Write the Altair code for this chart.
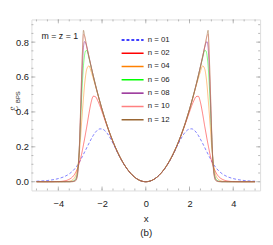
import altair as alt
import pandas as pd

# right half of each (symmetric) curve
x_half = [0, 0.25, 0.5, 0.75, 1.0, 1.25, 1.5, 1.75, 2.0, 2.1, 2.2, 2.3, 2.4, 2.5, 2.6,
          2.7, 2.75, 2.8, 2.85, 2.9, 2.95, 3.0, 3.05, 3.1, 3.15, 3.2, 3.3, 3.4, 3.5,
          3.75, 4.0, 4.5, 5.0]

n01 = [0, .006, .025, .056, .099, .155, .22, .275, .302, .303, .297, .284, .266, .244, .22,
       .195, .182, .17, .157, .145, .133, .121, .11, .1, .09, .082, .067, .055, .045,
       .028, .018, .007, .003]
n02 = [0, .0063, .025, .0566, .101, .158, .228, .31, .40, .435, .465, .487, .49, .455, .39,
       .315, .28, .245, .212, .18, .15, .124, .102, .084, .068, .055, .035, .022, .014,
       .004, .001, 0, 0]
n04 = [0, .0063, .0251, .0567, .101, .1588, .23, .315, .414, .457, .502, .547, .59, .632, .664,
       .645, .61, .555, .48, .40, .315, .225, .15, .095, .06, .038, .016, .007, .003,
       .0005, 0, 0, 0]
n06 = [0, .0063, .0251, .0567, .1011, .1588, .23, .315, .415, .459, .505, .554, .605, .657, .708,
       .752, .75, .725, .665, .565, .44, .30, .165, .08, .038, .018, .005, .0015, 0,
       0, 0, 0, 0]
n08 = [0, .0063, .0251, .0567, .1011, .1588, .23, .315, .415, .459, .505, .554, .606, .66, .716,
       .772, .795, .803, .77, .66, .50, .32, .165, .075, .03, .012, .003, .001, 0,
       0, 0, 0, 0]
n10 = [0, .0063, .0251, .0567, .1011, .1588, .23, .315, .415, .459, .505, .554, .606, .66, .717,
       .776, .807, .835, .845, .73, .55, .345, .17, .07, .025, .009, .002, 0, 0,
       0, 0, 0, 0]
n12 = [0, .0063, .0251, .0567, .1011, .1588, .23, .315, .415, .459, .505, .554, .606, .66, .717,
       .776, .807, .839, .868, .74, .55, .34, .16, .06, .02, .006, .001, 0, 0,
       0, 0, 0, 0]

names = ["n = 01", "n = 02", "n = 04", "n = 06", "n = 08", "n = 10", "n = 12"]
colors = ["#0000FF", "#FF0000", "#FF8000", "#00FF00", "#800080", "#FF8080", "#996633"]
dashes = [[3, 2], [1, 0], [1, 0], [1, 0], [1, 0], [1, 0], [1, 0]]
series = [n01, n02, n04, n06, n08, n10, n12]

x_labels = [-4, -2, 0, 2, 4]
x_minor = [-5, -4.5, -4, -3.5, -3, -2.5, -2, -1.5, -1, -0.5, 0, 0.5, 1, 1.5, 2, 2.5,
           3, 3.5, 4, 4.5, 5]
y_labels = [0, 0.2, 0.4, 0.6, 0.8]
y_minor = [0, 0.05, 0.1, 0.15, 0.2, 0.25, 0.3, 0.35, 0.4, 0.45, 0.5, 0.55, 0.6, 0.65,
           0.7, 0.75, 0.8, 0.85, 0.9]

rows = []
for name, vals in zip(names, series):
    for xv, yv in zip(x_half, vals):
        rows.append({"x": xv, "y": yv, "n": name})
        if xv != 0:
            rows.append({"x": -xv, "y": yv, "n": name})
df = pd.DataFrame(rows)

W, H = 234, 175
XDOM = [-5.23, 5.23]
YDOM = [-0.05, 0.93]
FRAME = "#a6a6a6"
FONT = "Liberation Sans"

xs = alt.Scale(domain=XDOM, nice=False, zero=False)
ys = alt.Scale(domain=YDOM, nice=False, zero=False)

x_axis = alt.Axis(values=x_labels, ticks=False, domain=False, grid=False,
                  labelPadding=8, labelFontSize=9.5, labelFont=FONT,
                  labelColor="#222", title=["x", "(b)"], titleFont=FONT,
                  titleFontSize=10, titleFontWeight="normal", titleColor="#222",
                  titleLineHeight=15, titlePadding=6)
y_axis = alt.Axis(values=y_labels, format=".1f", ticks=False, domain=False,
                  grid=False, labelPadding=3, labelFontSize=9.5, labelFont=FONT,
                  labelColor="#222", title=None)

leg = alt.Legend(orient="none", legendX=98, legendY=15.5, title=None,
                 symbolType="M-2.5,0H2.5", symbolSize=81,
                 symbolStrokeWidth=1.5, symbolOpacity=1,
                 labelFontSize=8, labelFont=FONT, labelColor="#222",
                 labelOffset=10, rowPadding=3.6, padding=0)

lines = alt.Chart(df).mark_line(strokeWidth=1, opacity=0.5, interpolate="monotone").encode(
    x=alt.X("x:Q", scale=xs, axis=x_axis, title=["x", "(b)"]),
    y=alt.Y("y:Q", scale=ys, axis=y_axis, title=None),
    color=alt.Color("n:N", scale=alt.Scale(domain=names, range=colors), legend=leg),
    strokeDash=alt.StrokeDash("n:N", scale=alt.Scale(domain=names, range=dashes), legend=leg),
)

def xticks(vals, length):
    d = pd.DataFrame({"v": vals})
    bottom = alt.Chart(d).mark_rule(color=FRAME, strokeWidth=0.8).encode(
        x=alt.X("v:Q", scale=xs, axis=x_axis, title=["x", "(b)"]),
        y=alt.value(H), y2=alt.value(H - length))
    top = alt.Chart(d).mark_rule(color=FRAME, strokeWidth=0.8).encode(
        x=alt.X("v:Q", scale=xs, axis=x_axis, title=["x", "(b)"]),
        y=alt.value(0), y2=alt.value(length))
    return [bottom, top]

def yticks(vals, length):
    d = pd.DataFrame({"v": vals})
    left = alt.Chart(d).mark_rule(color=FRAME, strokeWidth=0.8).encode(
        y=alt.Y("v:Q", scale=ys, axis=y_axis, title=None),
        x=alt.value(0), x2=alt.value(length))
    right = alt.Chart(d).mark_rule(color=FRAME, strokeWidth=0.8).encode(
        y=alt.Y("v:Q", scale=ys, axis=y_axis, title=None),
        x=alt.value(W), x2=alt.value(W - length))
    return [left, right]

txt = pd.DataFrame({"t": ["m = z = 1"]})
label_mz = alt.Chart(txt).mark_text(fontSize=9, font=FONT, color="#222", align="center",
                                     baseline="middle").encode(
    text="t:N", x=alt.value(29), y=alt.value(17))

yt1 = pd.DataFrame({"t": ["ℰ"]})
yt2 = pd.DataFrame({"t": ["BPS"]})
ylab1 = alt.Chart(yt1).mark_text(fontSize=10, font="DejaVu Sans", color="#222", angle=270,
                                  align="center", baseline="middle").encode(
    text="t:N", x=alt.value(-17), y=alt.value(91.5))
ylab2 = alt.Chart(yt2).mark_text(fontSize=6, font=FONT, color="#222", angle=270,
                                  align="center", baseline="middle").encode(
    text="t:N", x=alt.value(-13.5), y=alt.value(79.5))

layers = [lines]
layers += xticks(x_minor, 2) + xticks(x_labels, 4) + yticks(y_minor, 2) + yticks(y_labels, 4)
layers += [label_mz, ylab1, ylab2]

chart = alt.layer(*layers).properties(
    width=W, height=H,
    autosize=alt.AutoSizeParams(type="none"),
    padding={"left": 24, "top": 9, "right": 5, "bottom": 48},
).configure_view(stroke=FRAME, strokeWidth=1).configure(background="white")

chart.save("out.html", embed_options={"renderer": "svg", "actions": False})
